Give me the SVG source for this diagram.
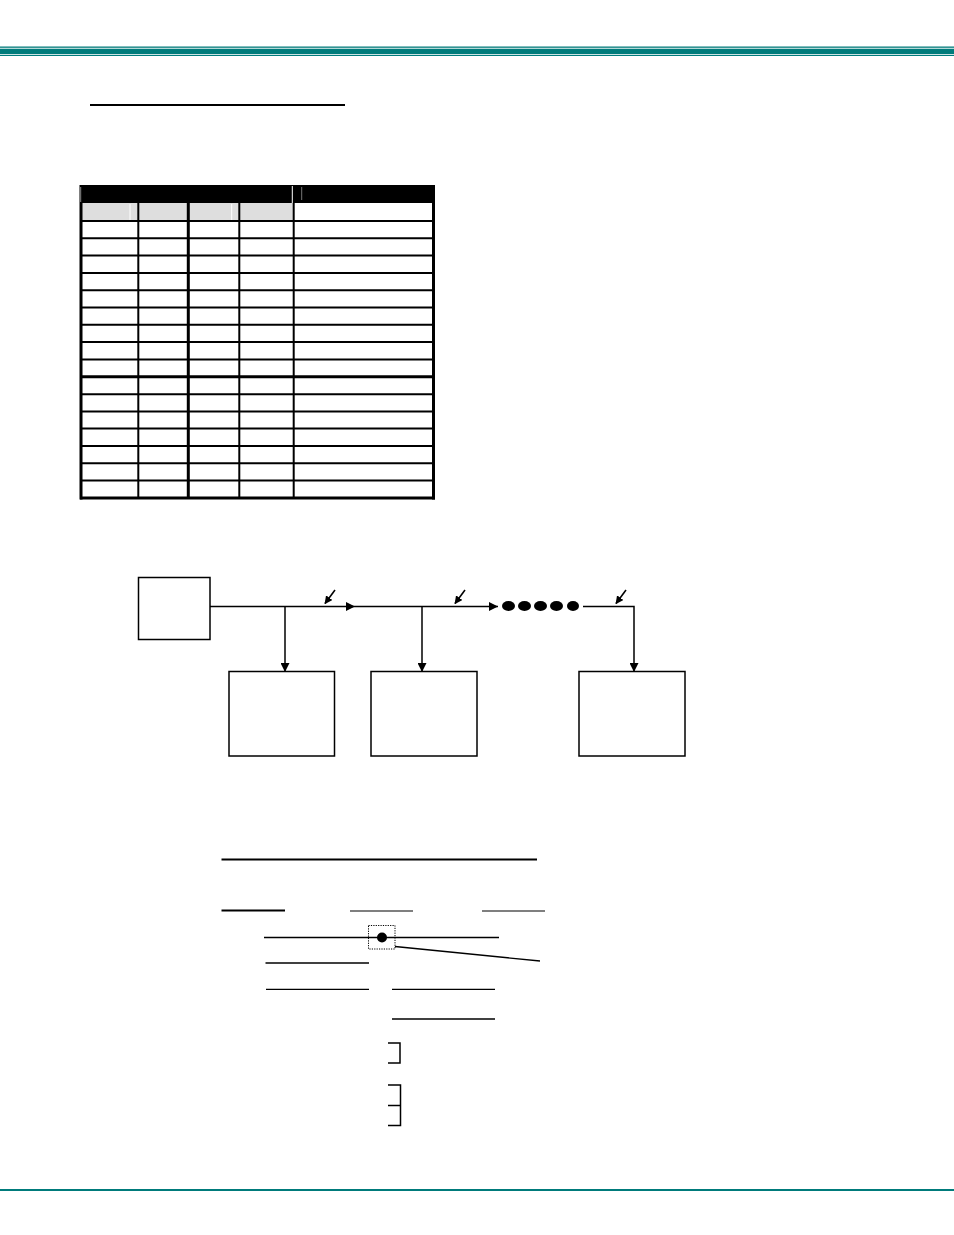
<svg xmlns="http://www.w3.org/2000/svg" width="954" height="1235" viewBox="0 0 954 1235">
<style>
.teal{fill:#007b7b}
.box{fill:#fff;stroke:#000;stroke-width:1.5}
.th{stroke:#000;stroke-width:2}
.tk{stroke:#000;stroke-width:3}
</style>
<defs>
<marker id="ah" viewBox="0 0 10 10" refX="10" refY="5" markerWidth="11" markerHeight="9" markerUnits="userSpaceOnUse" orient="auto"><path d="M0,0 L10,5 L0,10 Z" fill="#000"/></marker>
<marker id="sa" viewBox="0 0 10 10" refX="9" refY="5" markerWidth="8" markerHeight="8" markerUnits="userSpaceOnUse" orient="auto"><path d="M0,0 L10,5 L0,10 Z" fill="#000"/></marker>
</defs>
<rect width="954" height="1235" fill="#fff"/>
<g id="header-band">
<rect class="teal" x="0" y="46.5" width="954" height="1.3"/>
<rect class="teal" x="0" y="48.7" width="954" height="5.5"/>
<rect class="teal" x="0" y="55" width="954" height="1"/>
</g>
<g id="footer-band"><rect class="teal" x="0" y="1189" width="954" height="2"/></g>
<line id="title-underline" x1="90" y1="105" x2="345" y2="105" stroke="#000" stroke-width="2"/>
<g id="table">
<rect x="80" y="185" width="355" height="18" fill="#000"/>
<rect x="82" y="203" width="211" height="18" fill="#dedede"/>
<line x1="292.3" y1="186" x2="292.3" y2="203" stroke="#fff" stroke-width="1"/>
<line x1="301.7" y1="187" x2="301.7" y2="200" stroke="#777" stroke-width="1"/>
<line x1="130" y1="204" x2="130" y2="220" stroke="#fff" stroke-width="1"/>
<line x1="231.7" y1="204" x2="231.7" y2="220" stroke="#fff" stroke-width="1"/>
<g class="rows">
<line class="th" x1="80" y1="221" x2="434" y2="221"/>
<line class="th" x1="80" y1="238.3" x2="434" y2="238.3"/>
<line class="th" x1="80" y1="255.6" x2="434" y2="255.6"/>
<line class="th" x1="80" y1="272.9" x2="434" y2="272.9"/>
<line class="th" x1="80" y1="290.2" x2="434" y2="290.2"/>
<line class="th" x1="80" y1="307.5" x2="434" y2="307.5"/>
<line class="th" x1="80" y1="324.8" x2="434" y2="324.8"/>
<line class="th" x1="80" y1="342.1" x2="434" y2="342.1"/>
<line class="th" x1="80" y1="359.4" x2="434" y2="359.4"/>
<line class="tk" x1="80" y1="376.7" x2="434" y2="376.7"/>
<line class="th" x1="80" y1="394.2" x2="434" y2="394.2"/>
<line class="th" x1="80" y1="411.5" x2="434" y2="411.5"/>
<line class="th" x1="80" y1="428.6" x2="434" y2="428.6"/>
<line class="th" x1="80" y1="446" x2="434" y2="446"/>
<line class="th" x1="80" y1="463.2" x2="434" y2="463.2"/>
<line class="th" x1="80" y1="480.4" x2="434" y2="480.4"/>
</g>
<g class="cols">
<line class="th" x1="138.3" y1="203" x2="138.3" y2="498"/>
<line class="tk" x1="188.3" y1="203" x2="188.3" y2="498"/>
<line class="th" x1="239.3" y1="203" x2="239.3" y2="498"/>
<line class="th" x1="293.7" y1="203" x2="293.7" y2="498"/>
</g>
<line class="tk" x1="81" y1="185" x2="81" y2="499.5"/>
<line class="tk" x1="433.5" y1="185" x2="433.5" y2="499.5"/>
<line class="tk" x1="80" y1="498" x2="435" y2="498"/>
<line x1="80.7" y1="187" x2="80.7" y2="202" stroke="#888" stroke-width="1"/>
</g>
<g id="connectors" stroke="#000" stroke-width="1.5" fill="none">
<line x1="210" y1="606.5" x2="355" y2="606.5" marker-end="url(#ah)"/>
<line x1="355" y1="606.5" x2="498" y2="606.5" marker-end="url(#ah)"/>
<polyline points="583,606.5 634,606.5 634,672" marker-end="url(#ah)"/>
<line x1="285" y1="606.5" x2="285" y2="672" marker-end="url(#ah)"/>
<line x1="422" y1="606.5" x2="422" y2="672" marker-end="url(#ah)"/>
<line x1="335" y1="590" x2="325" y2="603.5" stroke-width="1.6" marker-end="url(#sa)"/>
<line x1="465" y1="590" x2="455" y2="603.5" stroke-width="1.6" marker-end="url(#sa)"/>
<line x1="626" y1="590" x2="616" y2="603.5" stroke-width="1.6" marker-end="url(#sa)"/>
</g>
<g id="dots" fill="#000">
<ellipse cx="508.5" cy="606" rx="6.5" ry="5"/>
<ellipse cx="524.5" cy="606" rx="6.5" ry="5"/>
<ellipse cx="540.5" cy="606" rx="6.5" ry="5"/>
<ellipse cx="556.5" cy="606" rx="6.5" ry="5"/>
<ellipse cx="573" cy="606" rx="6" ry="5"/>
</g>
<g id="node-source"><rect class="box" x="138.5" y="577.5" width="71.5" height="62"/></g>
<g id="node-1"><rect class="box" x="229" y="671.5" width="105.5" height="84.5"/></g>
<g id="node-2"><rect class="box" x="371" y="671.5" width="106" height="84.5"/></g>
<g id="node-3"><rect class="box" x="579" y="671.5" width="106" height="84.5"/></g>
<g id="lower-section" stroke="#000" fill="none">
<line x1="221.5" y1="859.5" x2="537" y2="859.5" stroke-width="2"/>
<line x1="221.5" y1="910.5" x2="285" y2="910.5" stroke-width="2"/>
<line x1="350" y1="911" x2="413" y2="911" stroke-width="1.2"/>
<line x1="482" y1="911" x2="545" y2="911" stroke-width="1.2"/>
<line x1="264" y1="937.5" x2="499" y2="937.5" stroke-width="1.5"/>
<rect x="368.5" y="925.5" width="26.5" height="23.5" stroke-width="1" stroke-dasharray="1.2,1.2"/>
<line x1="395" y1="946.5" x2="540" y2="961" stroke-width="1.3"/>
<line x1="265.5" y1="963" x2="369" y2="963" stroke-width="1.3"/>
<line x1="266" y1="989.3" x2="369" y2="989.3" stroke-width="1.3"/>
<line x1="392" y1="989.3" x2="495" y2="989.3" stroke-width="1.3"/>
<line x1="392" y1="1019" x2="495" y2="1019" stroke-width="1.3"/>
<polyline points="388,1043 400,1043 400,1063 388,1063" stroke-width="1.5"/>
<polyline points="388,1085 400.5,1085 400.5,1125.5 388,1125.5" stroke-width="1.5"/>
<line x1="388" y1="1105.5" x2="400.5" y2="1105.5" stroke-width="1.5"/>
</g>
<circle id="junction-dot" cx="382" cy="937.5" r="5" fill="#000"/>
</svg>
